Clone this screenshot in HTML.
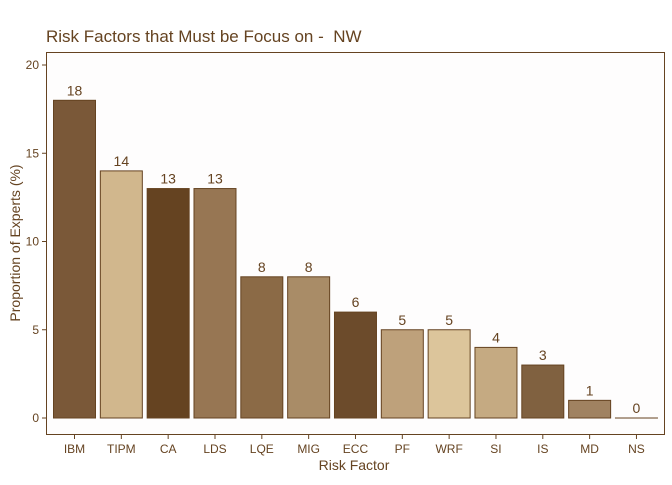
<!DOCTYPE html>
<html><head><meta charset="utf-8"><style>
body{margin:0;background:#fff;}
text{font-family:"Liberation Sans",sans-serif;}
</style></head><body>
<svg id="chart" width="672" height="480">
<rect x="0" y="0" width="672" height="480" fill="#fff"/>
<text x="46" y="42" font-size="17" fill="#654321">Risk Factors that Must be Focus on - &#160;NW</text>
<rect x="46.5" y="52.5" width="618" height="382" fill="#fefdfd" stroke="#654321" stroke-width="1"/>
<g id="bars"></g>
<text x="354" y="470" font-size="14" fill="#654321" text-anchor="middle">Risk Factor</text>
<text transform="translate(20,243) rotate(-90)" font-size="14" fill="#654321" text-anchor="middle">Proportion of Experts (%)</text>
</svg>
<script>
const categories=["IBM","TIPM","CA","LDS","LQE","MIG","ECC","PF","WRF","SI","IS","MD","NS"];
const values=[18,14,13,13,8,8,6,5,5,4,3,1,0];
const colors=["#7a5838","#d1b78d","#654321","#977653","#8b6a46","#a98c67","#6c4b2b","#bea17b","#dcc59b","#c5aa82","#806140","#a08261","#8a6a48"];
const yTicks=[0,5,10,15,20];
const ns="http://www.w3.org/2000/svg";
const svg=document.getElementById('chart');
const g=document.getElementById('bars');
const y=v=>418-v*(418-65)/20;
const step=46.83, x0=74.5, bw=42;
const x=i=>x0+i*step;
function el(t,a){const e=document.createElementNS(ns,t);for(const k in a)e.setAttribute(k,a[k]);return e;}
yTicks.forEach(t=>{
  const l=el('line',{x1:42,x2:46,y1:y(t),y2:y(t),stroke:'#654321'});
  
  
  svg.appendChild(l);
  const tx=el('text',{x:39,y:y(t)+4,'font-size':12,fill:'#654321','text-anchor':'end'});
  tx.textContent=t;
  
  
  svg.appendChild(tx);
});
categories.forEach((c,i)=>{
  const h=y(0)-y(values[i]);
  const r=el('rect',{x:x(i)-bw/2,y:y(values[i]),width:bw,height:Math.max(h,0.01),fill:colors[i],stroke:'#654321','stroke-width':1});
  
  
  g.appendChild(r);
  if(values[i]===0){const ln=el('line',{x1:x(i)-bw/2,x2:x(i)+bw/2,y1:y(0),y2:y(0),stroke:'#654321'});g.appendChild(ln);}
  const v=el('text',{x:x(i),y:y(values[i])-5,'font-size':14,fill:'#654321','text-anchor':'middle'});
  v.textContent=values[i];
  
  
  g.appendChild(v);
  const tk=el('line',{x1:x(i),x2:x(i),y1:435,y2:439,stroke:'#654321'});
  
  
  svg.appendChild(tk);
  const lb=el('text',{x:x(i),y:453,'font-size':12,fill:'#654321','text-anchor':'middle'});
  lb.textContent=c;
  
  
  svg.appendChild(lb);
});
</script>
</body></html>
